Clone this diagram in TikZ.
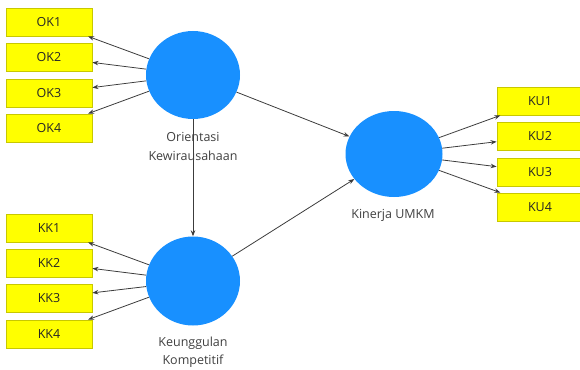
\documentclass[tikz,border=0pt]{standalone}
\usepackage{fontspec}
\setmainfont{Open Sans}
\usetikzlibrary{arrows.meta,shapes.geometric}
\definecolor{boxyellow}{RGB}{255,255,0}
\definecolor{boxborder}{RGB}{200,200,0}
\definecolor{lvblue}{RGB}{24,144,255}
\definecolor{linegrey}{RGB}{60,60,60}
\tikzset{
  indbox/.style={draw=boxborder, line width=0.8pt, fill=boxyellow, minimum width=86pt, minimum height=28pt, inner sep=0pt, font=\fontsize{12.5}{14}\selectfont, text=black!85},
  latent/.style={ellipse, fill=lvblue, inner sep=0pt},
  lbl/.style={font=\fontsize{12.5}{14}\selectfont, text=black!75, inner sep=0pt},
  arr/.style={draw=linegrey, line width=0.8pt, -{Stealth[length=6pt,width=4.5pt]}}
}
\begin{document}
\begin{tikzpicture}[x=1pt,y=-1pt]
\useasboundingbox (0,0) rectangle (580,369);
% latent variables
\node[latent, minimum width=94pt, minimum height=88pt] (ok) at (193,75) {};
\node[latent, minimum width=94pt, minimum height=89pt] (kk) at (193,281) {};
\node[latent, minimum width=97pt, minimum height=86pt] (ku) at (394,154) {};
% indicators
\node[indbox] (ok1) at (49,22) {OK1};
\node[indbox] (ok2) at (49,57) {OK2};
\node[indbox] (ok3) at (49,93) {OK3};
\node[indbox] (ok4) at (49,128) {OK4};
\node[indbox] (kk1) at (49,228) {KK1};
\node[indbox] (kk2) at (49,263) {KK2};
\node[indbox] (kk3) at (49,298) {KK3};
\node[indbox] (kk4) at (49,334) {KK4};
\node[indbox] (ku1) at (540,101) {KU1};
\node[indbox] (ku2) at (540,136.5) {KU2};
\node[indbox] (ku3) at (540,172) {KU3};
\node[indbox] (ku4) at (540,207) {KU4};
% connectors
\foreach \i in {1,2,3,4} {
  \draw[arr] (ok) -- (ok\i);
  \draw[arr] (kk) -- (kk\i);
  \draw[arr] (ku) -- (ku\i);
}
\draw[arr] (ok) -- (kk);
\draw[arr] (ok) -- (ku);
\draw[arr] (kk) -- (ku);
% labels
\node[lbl] (lok1) at (193,137) {Orientasi};
\node[lbl] (lok2) at (193,156) {Kewirausahaan};
\node[lbl] (lkk1) at (193,343) {Keunggulan};
\node[lbl] (lkk2) at (193,361) {Kompetitif};
\node[lbl] (lku) at (393,215) {Kinerja UMKM};
\end{tikzpicture}
\end{document}
